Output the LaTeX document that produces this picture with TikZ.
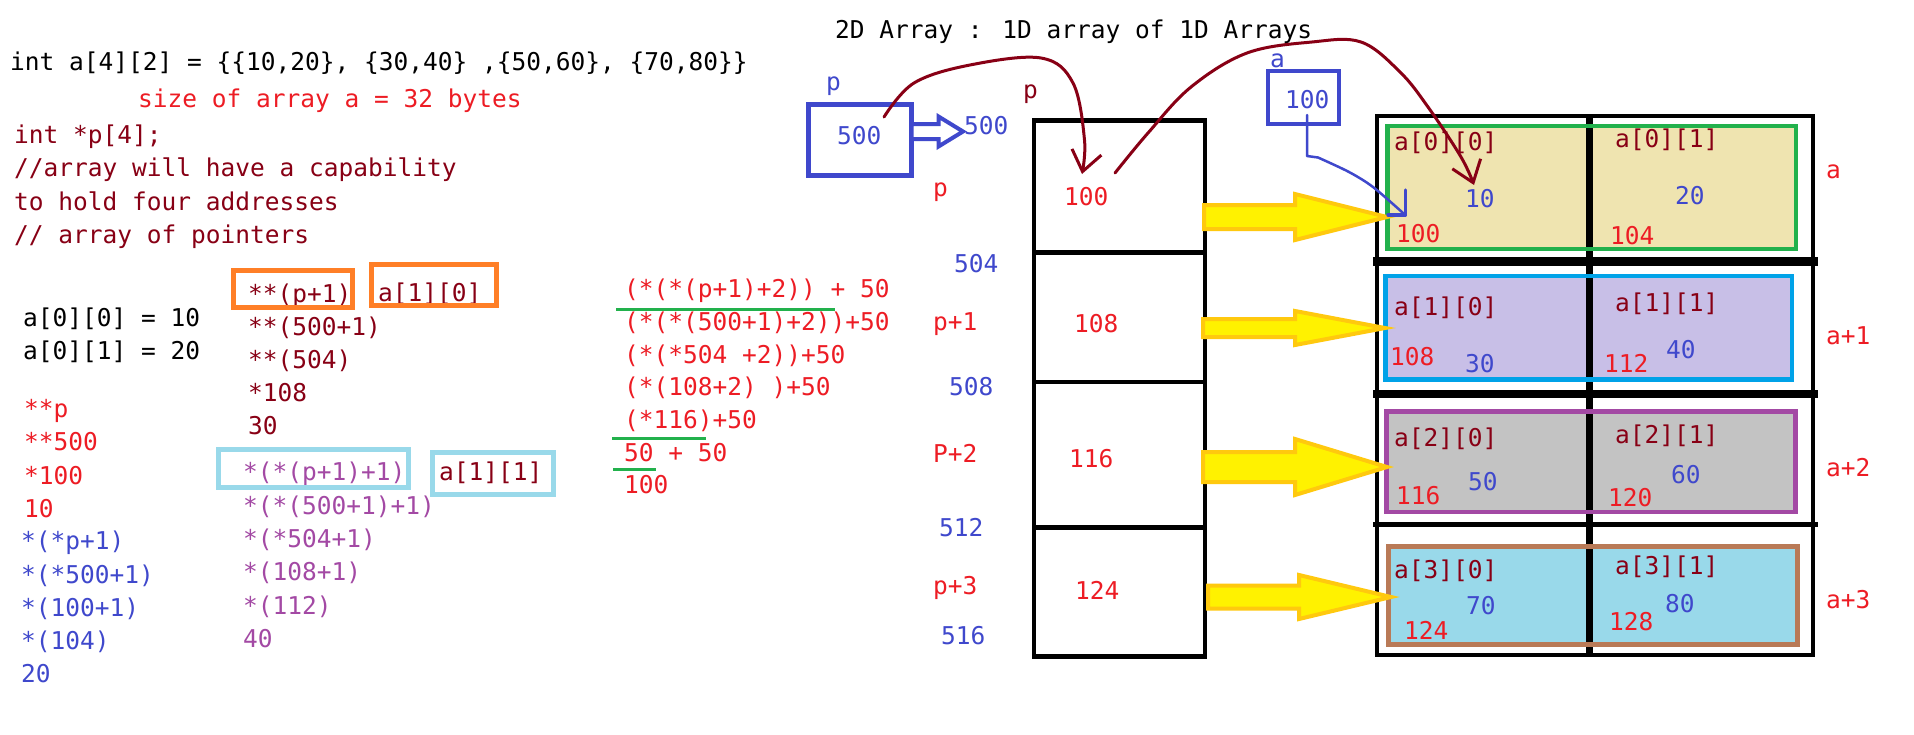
\documentclass[tikz,border=0pt]{standalone}
\usepackage{fontspec}
\newfontfamily\codefont{DejaVu Sans Mono}
\usetikzlibrary{arrows.meta,calc}

\definecolor{maroon}{RGB}{136,0,21}
\definecolor{pred}{RGB}{237,28,36}
\definecolor{pblue}{RGB}{63,72,204}
\definecolor{ppurple}{RGB}{163,73,164}
\definecolor{porange}{RGB}{255,127,39}
\definecolor{pltblue}{RGB}{153,217,234}
\definecolor{pgreen}{RGB}{34,177,76}
\definecolor{pyellow}{RGB}{255,242,0}
\definecolor{pgold}{RGB}{255,201,14}
\definecolor{ptan}{RGB}{239,228,176}
\definecolor{plav}{RGB}{200,191,231}
\definecolor{pgray}{RGB}{195,195,195}
\definecolor{pbrown}{RGB}{185,122,87}
\definecolor{pturq}{RGB}{0,162,232}

% fat arrow: [style]{tail}{tip}{shaft half}{head half}{head length}
\newcommand{\fatarrow}[6][yellowarrow]{%
  \filldraw[#1] let \p1=(#2), \p2=(#3) in
    (\x1,{\y1+#4pt}) -- ({\x2-#6pt},{\y1+#4pt}) -- ({\x2-#6pt},{\y1+#5pt}) -- (\x2,\y1)
    -- ({\x2-#6pt},{\y1-#5pt}) -- ({\x2-#6pt},{\y1-#4pt}) -- (\x1,{\y1-#4pt}) -- cycle;}

\begin{document}
\begin{tikzpicture}[x=1pt,y=-1pt,
  code/.style={font=\codefont\fontsize{24.5}{28}\selectfont, inner sep=0pt,
    text height=17.5pt, text depth=0pt, anchor=west},
  thinbox/.style={line width=4.5pt},
  underline/.style={draw=pgreen, line width=3pt},
  yellowarrow/.style={fill=pyellow, draw=pgold, line width=4pt, line join=miter},
  hollowarrow/.style={fill=white, draw=pblue, line width=4pt, line join=miter},
  pen/.style={draw=maroon, line width=3pt, line cap=round, line join=round},
  bluepen/.style={draw=pblue, line width=2.5pt, line cap=round, line join=round},
]
\fill[white] (0,0) rectangle (1914,734);
\useasboundingbox (0,0) rectangle (1914,734);

% declarations
\node[code] (decl) at (10,62) {int a[4][2] = \{\{10,20\}, \{30,40\} ,\{50,60\}, \{70,80\}\}};
\node[code, text=pred] (size) at (138,98.5) {size of array a = 32 bytes};
\node[code, text=maroon] (pdecl) at (14,135) {int *p[4];};
\node[code, text=maroon] (com1) at (14,168) {//array will have a capability};
\node[code, text=maroon] (com2) at (14,202) {to hold four addresses};
\node[code, text=maroon] (com3) at (14,235) {// array of pointers};
\node[code] (a00) at (23,318) {a[0][0] = 10};
\node[code] (a01) at (23,351) {a[0][1] = 20};

% first column
\foreach \t [count=\i] in {**p,**500,*100,10}
  \node[code, text=pred] (r\i) at (24,{408.5+33.5*(\i-1)}) {\t};
\foreach \t [count=\i] in {{*(*p+1)},{*(*500+1)},{*(100+1)},{*(104)},20}
  \node[code, text=pblue] (b\i) at (21,{541+33.25*(\i-1)}) {\t};

% second column
\foreach \t [count=\i] in {{**(p+1)},{**(500+1)},{**(504)},*108,30}
  \node[code, text=maroon] (m\i) at (248,{294+33*(\i-1)}) {\t};
\foreach \t [count=\i] in {{*(*(p+1)+1)},{*(*(500+1)+1)},{*(*504+1)},{*(108+1)},{*(112)},40}
  \node[code, text=ppurple] (v\i) at (243,{472+33.4*(\i-1)}) {\t};
\node[code, text=maroon] (e10) at (378,293) {a[1][0]};
\node[code, text=maroon] (e11) at (439,472) {a[1][1]};
\draw[line width=5pt, draw=porange] (233.5,270.5) rectangle (352.5,307.5);
\draw[line width=5pt, draw=porange] (371.5,264.5) rectangle (496.5,305.5);
\draw[line width=5pt, draw=pltblue] (218.5,449.5) rectangle (408.5,487.5);
\draw[line width=5pt, draw=pltblue] (432.5,452.5) rectangle (553.5,494.5);

% third column
\foreach \t [count=\i] in {{(*(*(p+1)+2)) + 50},{(*(*(500+1)+2))+50},{(*(*504 +2))+50},{(*(108+2) )+50},{(*116)+50},{50 + 50},100}
  \node[code, text=pred] (s\i) at (624,{289+32.7*(\i-1)}) {\t};
\draw[underline] (616,309) -- (835,309);
\draw[underline] (612,438.5) -- (706,438.5);
\draw[underline] (613,469.5) -- (656,469.5);

% title
\node[code] (title) at (835,30) {2D Array : 1D array of 1D Arrays};

% pointer p
\node[code, text=pblue] (plab) at (826,81.5) {p};
\draw[line width=5pt, draw=pblue] (808.5,104) rectangle (911.5,175.5);
\node[code, text=pblue] (pval) at (837,136) {500};
\coordinate (ptail) at (911.5,131.5);
\coordinate (ptip) at (963,131.5);
\fatarrow[hollowarrow]{ptail}{ptip}{7.5}{15}{24.5}
\node[code, text=pblue] (paddr) at (964,126) {500};
\node[code, text=maroon] (pname) at (1023,89.5) {p};

% array of pointers
\draw[line width=4.5pt] (1034,120.5) rectangle (1205,656.5);
\foreach \y in {252.5,382,527.5}
  \draw[line width=4.5pt] (1034,\y) -- (1205,\y);
\foreach \t/\x/\y [count=\i] in {p/933/187.5,p+1/933/321.5,P+2/933/453.5,p+3/933/585.5}
  \node[code, text=pred] (pl\i) at (\x,\y) {\t};
\foreach \t/\x/\y [count=\i] in {504/954/263.5,508/949/387,512/939/528,516/941/636}
  \node[code, text=pblue] (ad\i) at (\x,\y) {\t};
\foreach \t/\x/\y [count=\i] in {100/1064/196.5,108/1074/324,116/1069/459,124/1075/590.5}
  \node[code, text=pred] (c\i) at (\x,\y) {\t};

% pointer a
\node[code, text=pblue] (alab) at (1270,58.5) {a};
\draw[line width=4.5pt, draw=pblue] (1268,71) rectangle (1339,124);
\node[code, text=pblue] (aval) at (1285,100) {100};

% the 2D array
\fill[ptan] (1387.5,126) rectangle (1796,249);
\fill[plav] (1385.5,276) rectangle (1792,379.5);
\fill[pgray] (1386.5,411.5) rectangle (1795.5,512);
\fill[pltblue] (1388.5,546.5) rectangle (1797.5,644.5);
\draw[line width=4pt] (1377,115.5) rectangle (1813,654.5);
\draw[line width=9pt] (1373,261.5) -- (1818,261.5);
\draw[line width=8pt] (1373,394) -- (1818,394);
\draw[line width=5.5pt] (1373,524.5) -- (1818,524.5);
\draw[line width=7pt] (1589.5,115.5) -- (1589.5,654.5);
\draw[thinbox, draw=pgreen] (1387.5,126) rectangle (1796,249);
\draw[thinbox, draw=pturq] (1385.5,276) rectangle (1792,379.5);
\draw[thinbox, draw=ppurple] (1386.5,411.5) rectangle (1795.5,512);
\draw[thinbox, draw=pbrown] (1388.5,546.5) rectangle (1797.5,644.5);

\foreach \t/\x/\y [count=\i] in {a[0][0]/1394/142,a[0][1]/1615/139,a[1][0]/1394/307,a[1][1]/1615/303,a[2][0]/1394/438,a[2][1]/1615/435,a[3][0]/1394/570,a[3][1]/1615/566}
  \node[code, text=maroon] (el\i) at (\x,\y) {\t};
\foreach \t/\x/\y [count=\i] in {10/1465/199,20/1675/196,30/1465/364,40/1666/350,50/1468/482,60/1671/475,70/1466/606,80/1665/604}
  \node[code, text=pblue] (val\i) at (\x,\y) {\t};
\foreach \t/\x/\y [count=\i] in {100/1396/234,104/1610/236,108/1390/357,112/1604/364,116/1396/496,120/1608/498,124/1404/631,128/1609/622}
  \node[code, text=pred] (adr\i) at (\x,\y) {\t};
\foreach \t/\y [count=\i] in {a/169.5,a+1/336,a+2/468,a+3/599.5}
  \node[code, text=pred] (row\i) at (1826,\y) {\t};

% yellow arrows from the pointers to the rows
\coordinate (t1) at (1204,217); \coordinate (h1) at (1387,217);
\coordinate (t2) at (1203,328); \coordinate (h2) at (1385,328);
\coordinate (t3) at (1203,467); \coordinate (h3) at (1387,467);
\coordinate (t4) at (1208,597); \coordinate (h4) at (1391,597);
\fatarrow{t1}{h1}{12}{23}{92}
\fatarrow{t2}{h2}{9}{17}{90}
\fatarrow{t3}{h3}{15}{28}{92}
\fatarrow{t4}{h4}{11.5}{22}{92}

% hand drawn links
\coordinate (s1) at (884,117);
\coordinate (e1) at (1082,174);
\draw[pen, -{Straight Barb[length=20pt,width=30pt]}] plot[smooth, tension=0.6]
  coordinates {(s1) (914,83) (970,65) (1041,58) (1073,83) (1084.5,140) (e1)};
\coordinate (s2) at (1115,173);
\coordinate (e2) at (1474,185);
\draw[pen, -{Straight Barb[length=20pt,width=30pt]}] plot[smooth, tension=0.6]
  coordinates {(s2) (1148,133) (1191,87) (1247,53) (1312,42) (1361,42) (1400,72) (1428,107) (1461,157) (e2)};
\coordinate (s3) at (1307,115);
\coordinate (e3) at (1403,213);
\draw[bluepen] (s3) -- (1307,156) -- plot[smooth, tension=0.5]
  coordinates {(1318,157.5) (1349,172) (1373,187) (e3)};
\draw[bluepen, line width=3.5pt] (1405.5,190) -- (1405.5,215) -- (1388,215);
\end{tikzpicture}
\end{document}
